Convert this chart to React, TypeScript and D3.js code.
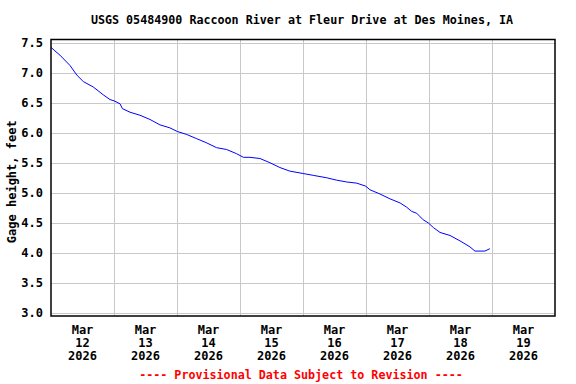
import React from "react";
import * as d3 from "d3";

const title = "USGS 05484900 Raccoon River at Fleur Drive at Des Moines, IA";
const yLabel = "Gage height, feet";
const footer = "---- Provisional Data Subject to Revision ----";

// hours since 2026-03-12 00:00
const hours = [0, 1.5, 3.4, 7.2, 9.8, 12.3, 16.1, 19.9, 22.5, 24, 26.3, 27.2, 30.1, 33.9, 37.7, 41.5, 45.3, 48.1, 51.7, 55.5, 59.3, 63.1, 66.9, 70.7, 73.3, 75.8, 79.6, 83.4, 87.2, 91.0, 96.1, 99.9, 105.0, 108.8, 112.6, 116.5, 119.9, 121.5, 125.3, 129.1, 133.0, 135.5, 137.4, 139.3, 141.8, 143.7, 145.7, 148.2, 152.0, 155.8, 159.6, 161.5, 165.3, 167.2];
const gage = [7.42, 7.36, 7.29, 7.12, 6.96, 6.85, 6.76, 6.63, 6.55, 6.53, 6.48, 6.40, 6.34, 6.29, 6.22, 6.13, 6.08, 6.02, 5.97, 5.90, 5.83, 5.75, 5.72, 5.65, 5.59, 5.59, 5.57, 5.50, 5.42, 5.36, 5.32, 5.29, 5.25, 5.21, 5.18, 5.16, 5.11, 5.05, 4.98, 4.90, 4.83, 4.76, 4.69, 4.66, 4.55, 4.50, 4.42, 4.34, 4.29, 4.20, 4.10, 4.03, 4.03, 4.07];
const yTicks = [3.0, 3.5, 4.0, 4.5, 5.0, 5.5, 6.0, 6.5, 7.0, 7.5];
const dayLabels = ["12", "13", "14", "15", "16", "17", "18", "19"];

const start = new Date(Date.UTC(2026, 2, 12));
const end = new Date(Date.UTC(2026, 2, 20));

export default function App() {
  const W = 576, H = 384;
  const left = 51, right = 555, top = 39.5, bottom = 316;
  const x = d3.scaleUtc().domain([start, end]).range([left, right]);
  const y = d3.scaleLinear().domain([2.95, 7.55]).range([bottom, top]);
  const data = hours.map((h, i) => ({ t: new Date(start.getTime() + h * 3600000), v: gage[i] }));
  const line = d3.line<{ t: Date; v: number }>().x(d => x(d.t)).y(d => y(d.v));
  const days = d3.utcDay.range(start, end);
  const font = "'DejaVu Sans Mono', monospace";
  return (
    <svg width={W} height={H} style={{ position: "absolute", left: 0, top: 0, background: "#fff" }} fontFamily={font} fontWeight="bold">
      <rect x={0} y={0} width={W} height={H} fill="#fff" />
      <text x={302} y={24} textAnchor="middle" fontSize={11.7}>{title}</text>
      {yTicks.map(t => (
        <g key={t}>
          <line x1={left} x2={right} y1={Math.round(y(t)) + 0.5} y2={Math.round(y(t)) + 0.5} stroke="#c8c8c8" strokeWidth={1} />
          <text x={43} y={y(t) + 4} textAnchor="end" fontSize={12}>{t.toFixed(1)}</text>
        </g>
      ))}
      {days.slice(1).map(d => (
        <line key={+d} x1={Math.round(x(d)) + 0.5} x2={Math.round(x(d)) + 0.5} y1={top} y2={bottom} stroke="#c8c8c8" strokeWidth={1} />
      ))}
      {days.map((d, i) => {
        const cx = x(new Date(d.getTime() + 12 * 3600000));
        return (
          <text key={+d} textAnchor="middle" fontSize={12}>
            <tspan x={cx} y={334}>Mar</tspan>
            <tspan x={cx} y={347}>{dayLabels[i]}</tspan>
            <tspan x={cx} y={360}>2026</tspan>
          </text>
        );
      })}
      <path d={line(data) || ""} fill="none" stroke="#0000ff" strokeWidth={1} />
      <rect x={left} y={top} width={right - left} height={bottom - top} fill="none" stroke="#000" strokeWidth={1.5} />
      <text transform={`translate(16,${(top + bottom) / 2 + 4}) rotate(-90)`} textAnchor="middle" fontSize={12}>{yLabel}</text>
      <text x={301} y={379} textAnchor="middle" fontSize={11.7} fill="#ff0000">{footer}</text>
    </svg>
  );
}
